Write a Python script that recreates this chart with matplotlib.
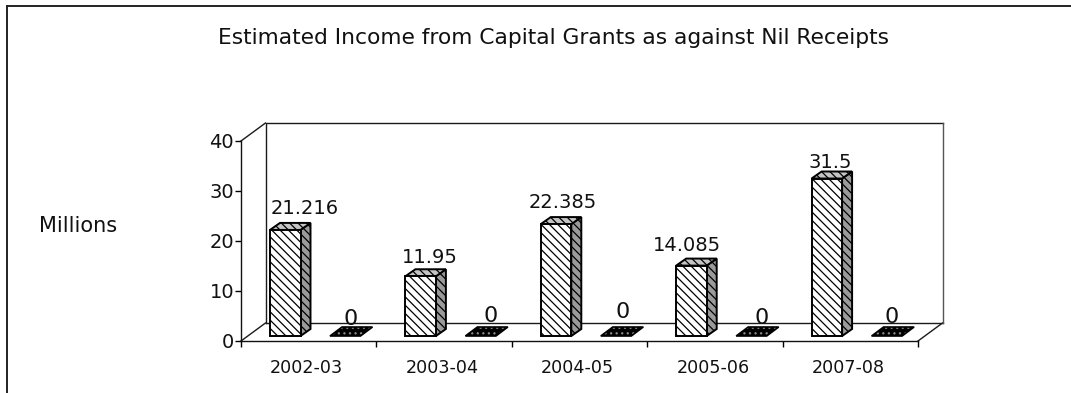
import matplotlib
matplotlib.use("Agg")
import matplotlib.pyplot as plt
from matplotlib.lines import Line2D
from matplotlib.patches import Polygon
from matplotlib.transforms import ScaledTranslation

# Chart content
title = "Estimated Income from Capital Grants as against Nil Receipts"
y_label = "Millions"
years = ["2002-03", "2003-04", "2004-05", "2005-06", "2007-08"]
capital_grants = [21.216, 11.95, 22.385, 14.085, 31.5]
nil_receipts = [0, 0, 0, 0, 0]
y_ticks = [0, 10, 20, 30, 40]

# Hand placement of the value labels, in pixels from each bar's front-top-left corner
grant_label_dx = [35, 24, 22, 11, 19]
grant_label_dy = [21, 19, 22, 20, 16]
nil_label_dx = [21, 25, 22, 25, 20]
nil_label_dy = [17, 20, 24, 18, 19]

W, H = 1071, 393
PLOT_L, PLOT_R, PLOT_TOP, PLOT_BOTTOM = 241, 918, 141, 341
PX_X = (PLOT_R - PLOT_L) / len(years)          # pixels per category
PX_Y = (PLOT_BOTTOM - PLOT_TOP) / y_ticks[-1]  # pixels per value unit


def dx(px):
    return px / PX_X


def dy(px):
    return px / PX_Y


plt.rcParams["font.family"] = "DejaVu Sans"
plt.rcParams["hatch.linewidth"] = 0.9

fig = plt.figure(figsize=(W / 100, H / 100), dpi=100, facecolor="white")
ax = fig.add_axes([PLOT_L / W, 1 - PLOT_BOTTOM / H,
                   (PLOT_R - PLOT_L) / W, (PLOT_BOTTOM - PLOT_TOP) / H])
ax.set_xlim(0, len(years))
ax.set_ylim(0, y_ticks[-1])
ax.patch.set_visible(False)

# Outer chart frame: only the left and top edges fall inside the image
fig.add_artist(Line2D([7 / W, 7 / W], [0, 1 - 6 / H], color="#222222", lw=1.4))
fig.add_artist(Line2D([7 / W, 1], [1 - 6 / H, 1 - 6 / H], color="#222222", lw=1.4))

# Back wall, side wall and floor of the box
depth_x, depth_y = dx(24.5), dy(18)
top = y_ticks[-1]
n = len(years)
wall_lines = [
    ([depth_x, depth_x, n + depth_x], [depth_y, top + depth_y, top + depth_y]),
    ([depth_x, n + depth_x], [depth_y, depth_y]),
    ([0, depth_x], [top, top + depth_y]),
    ([0, depth_x], [0, depth_y]),
    ([n, n + depth_x], [0, depth_y]),
]
for xs, ys in wall_lines:
    ax.plot(xs, ys, color="#1a1a1a", lw=1.0, clip_on=False, zorder=1)
ax.plot([n + depth_x, n + depth_x], [depth_y, top + depth_y],
        color="#555555", lw=1.0, clip_on=False, zorder=1)


def face(points, fill, hatch, zorder):
    # Hatch first, then a crisp outline on top
    ax.add_patch(Polygon(points, closed=True, facecolor=fill, edgecolor="black",
                         hatch=hatch, lw=1.4, clip_on=False, zorder=zorder,
                         joinstyle="miter"))


base = dy(5)
bar_w = dx(30.5)
bar_dx, bar_dy = dx(10), dy(7)
grant_offset = dx(29)

for i, value in enumerate(capital_grants):
    x0 = i + grant_offset
    x1 = x0 + bar_w
    y0 = base
    y1 = base + value
    face([(x1, y0), (x1 + bar_dx, y0 + bar_dy), (x1 + bar_dx, y1 + bar_dy), (x1, y1)],
         "#9a9a9a", "\\\\\\\\", 3)
    face([(x0, y1), (x1, y1), (x1 + bar_dx, y1 + bar_dy), (x0 + bar_dx, y1 + bar_dy)],
         "#c4c4c4", "\\\\\\\\", 3)
    face([(x0, y0), (x1, y0), (x1, y1), (x0, y1)], "white", "\\\\\\\\", 4)
    ax.annotate(str(value), xy=(x0, y1), xytext=(grant_label_dx[i], grant_label_dy[i]),
                textcoords="offset pixels", ha="center", va="center",
                fontsize=14, color="#111111", annotation_clip=False, zorder=6)

flat_dx, flat_dy = dx(12), dy(9)
nil_offset = dx(89)

for i, value in enumerate(nil_receipts):
    x0 = i + nil_offset
    x1 = x0 + bar_w
    y0 = base + value
    corners = [(x0, y0), (x1, y0), (x1 + flat_dx, y0 + flat_dy), (x0 + flat_dx, y0 + flat_dy)]
    ax.add_patch(Polygon(corners, closed=True, facecolor="black", edgecolor="#8a8a8a",
                         hatch="...", lw=0, clip_on=False, zorder=3))
    ax.add_patch(Polygon(corners, closed=True, fill=False, edgecolor="black", lw=1.2,
                         clip_on=False, zorder=4))
    ax.annotate(str(value), xy=(x0, y0), xytext=(nil_label_dx[i], nil_label_dy[i]),
                textcoords="offset pixels", ha="center", va="center",
                fontsize=16, color="#111111", annotation_clip=False, zorder=6)

# Axes: ticks on category boundaries, labels centred between them
for side in ("top", "right"):
    ax.spines[side].set_visible(False)
for side in ("left", "bottom"):
    ax.spines[side].set_linewidth(1.0)
    ax.spines[side].set_color("#111111")
    ax.spines[side].set_zorder(2)

ax.set_yticks(y_ticks)
ax.set_yticklabels([str(t) for t in y_ticks], fontsize=14, color="#111111", va="center")
ax.tick_params(axis="y", length=4, width=1.0, pad=1)
for lab in ax.get_yticklabels():
    lab.set_transform(lab.get_transform() + ScaledTranslation(0, -2 / 100, fig.dpi_scale_trans))

ax.set_xticks(range(n + 1))
ax.set_xticklabels([])
ax.set_xticks([i + 0.5 for i in range(n)], minor=True)
ax.set_xticklabels(years, minor=True, fontsize=12.6, color="#111111")
ax.tick_params(axis="x", which="major", length=4, width=1.0)
ax.tick_params(axis="x", which="minor", length=0, pad=13)
for lab in ax.get_xticklabels(minor=True):
    lab.set_transform(lab.get_transform() + ScaledTranslation(-2 / 100, 0, fig.dpi_scale_trans))

fig.text(554 / W, 1 - 38 / H, title, ha="center", va="center", fontsize=15.7, color="#111111")
fig.text(78 / W, 1 - 226 / H, y_label, ha="center", va="center", fontsize=15, color="#111111")

fig.savefig("out.png", dpi=100, facecolor="white")
